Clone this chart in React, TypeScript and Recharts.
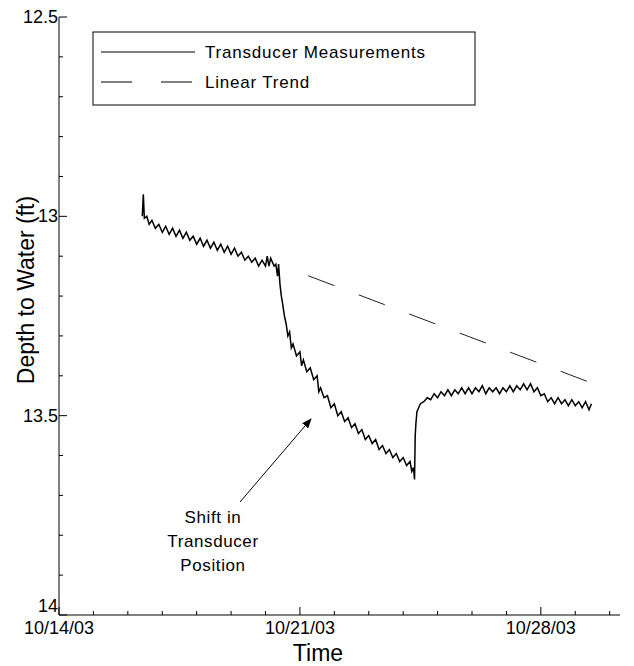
import React from 'react';
import { LineChart, Line, XAxis, YAxis } from 'recharts';

document.body.style.margin = '0';

// days since 10/14/03, depth to water (ft)
const transducer: [number, number][] = [
  [2.42, 13.0], [2.45, 12.945], [2.48, 13.005], [2.55, 13.0], [2.62, 13.02], [2.7, 13.01], [2.8, 13.03], [2.9, 13.02],
  [3.0, 13.04], [3.1, 13.025], [3.2, 13.045], [3.3, 13.03], [3.4, 13.05], [3.5, 13.035], [3.6, 13.055], [3.7, 13.04],
  [3.8, 13.06], [3.9, 13.05], [4.0, 13.07], [4.1, 13.055], [4.2, 13.075], [4.3, 13.06], [4.4, 13.08], [4.5, 13.065],
  [4.6, 13.085], [4.7, 13.07], [4.8, 13.09], [4.9, 13.075], [5.0, 13.095], [5.1, 13.08], [5.2, 13.1], [5.3, 13.09],
  [5.4, 13.11], [5.5, 13.1], [5.6, 13.115], [5.7, 13.105], [5.8, 13.125], [5.9, 13.11], [6.0, 13.125], [6.05, 13.1],
  [6.1, 13.125], [6.15, 13.105], [6.25, 13.125], [6.3, 13.12], [6.35, 13.15], [6.38, 13.12], [6.42, 13.17], [6.46, 13.2],
  [6.5, 13.22], [6.55, 13.25], [6.6, 13.27], [6.65, 13.3], [6.7, 13.29], [6.75, 13.33], [6.8, 13.32], [6.9, 13.35],
  [7.0, 13.34], [7.05, 13.375], [7.1, 13.36], [7.2, 13.39], [7.3, 13.38], [7.4, 13.41], [7.5, 13.4], [7.55, 13.44],
  [7.6, 13.43], [7.7, 13.455], [7.8, 13.45], [7.9, 13.48], [8.0, 13.47], [8.1, 13.5], [8.2, 13.49], [8.3, 13.515],
  [8.4, 13.505], [8.5, 13.53], [8.6, 13.52], [8.7, 13.545], [8.8, 13.535], [8.9, 13.56], [9.0, 13.55], [9.1, 13.57],
  [9.2, 13.56], [9.3, 13.585], [9.4, 13.575], [9.5, 13.595], [9.6, 13.585], [9.7, 13.605], [9.8, 13.595], [9.9, 13.615],
  [10.0, 13.605], [10.1, 13.625], [10.2, 13.615], [10.25, 13.64], [10.3, 13.63], [10.33, 13.66], [10.35, 13.55],
  [10.37, 13.52], [10.4, 13.49], [10.45, 13.48], [10.5, 13.47], [10.6, 13.465], [10.7, 13.455], [10.8, 13.46],
  [10.9, 13.445], [11.0, 13.455], [11.1, 13.44], [11.2, 13.45], [11.3, 13.435], [11.4, 13.45], [11.5, 13.435],
  [11.6, 13.445], [11.7, 13.43], [11.8, 13.445], [11.9, 13.43], [12.0, 13.445], [12.1, 13.43], [12.2, 13.44],
  [12.3, 13.425], [12.4, 13.445], [12.5, 13.43], [12.6, 13.44], [12.7, 13.43], [12.8, 13.445], [12.9, 13.43],
  [13.0, 13.44], [13.1, 13.425], [13.2, 13.44], [13.3, 13.425], [13.4, 13.435], [13.5, 13.42], [13.6, 13.435],
  [13.7, 13.42], [13.8, 13.44], [13.9, 13.43], [14.0, 13.45], [14.1, 13.445], [14.2, 13.465], [14.3, 13.455],
  [14.4, 13.47], [14.5, 13.455], [14.6, 13.47], [14.7, 13.46], [14.8, 13.475], [14.9, 13.46], [15.0, 13.475],
  [15.1, 13.465], [15.2, 13.48], [15.3, 13.465], [15.4, 13.485], [15.47, 13.47],
];
const trend: [number, number][] = [[7.24, 13.149], [15.47, 13.418]];

const dateTicks = [0, 7, 14];
const dateLabels = ['10/14/03', '10/21/03', '10/28/03'];
const dayTicks = [0, 1, 2, 3, 4, 5, 6, 7, 8, 9, 10, 11, 12, 13, 14, 15, 16];
const depthTicks = [12.5, 13, 13.5, 14];
const depthAllTicks = [12.5, 12.6, 12.7, 12.8, 12.9, 13, 13.1, 13.2, 13.3, 13.4, 13.5, 13.6, 13.7, 13.8, 13.9, 14];

const font = '"Liberation Sans", Arial, sans-serif';
const W = 634, H = 666;

const transducerRows = transducer.map(([day, depth]) => ({ day, depth }));
const trendRows = trend.map(([day, depth]) => ({ day, depth }));

function DayTick(props: any) {
  const { x, y, payload } = props;
  const i = dateTicks.indexOf(payload.value);
  return (
    <g>
      <line x1={x} y1={y} x2={x} y2={y - (i >= 0 ? 8 : 4)} stroke="#000" />
      {i >= 0 && (
        <text x={x} y={y + 19} textAnchor="middle" fontSize={18} fontFamily={font} fill="#000">{dateLabels[i]}</text>
      )}
    </g>
  );
}

function DepthTick(props: any) {
  const { x, y, payload } = props;
  const v = Math.round(payload.value * 10) / 10;
  const major = depthTicks.includes(v);
  return (
    <g>
      <line x1={x} y1={y} x2={x + (major ? 8 : 4)} y2={y} stroke="#000" />
      {major && (
        <text x={x - 1} y={y + (v === 14 ? -3 : 6)} textAnchor="end" fontSize={18} fontFamily={font} fill="#000">{String(v)}</text>
      )}
    </g>
  );
}

export default function App() {
  return (
    <div style={{ position: 'relative', width: W, height: H, background: '#fff', fontFamily: font }}>
      <LineChart width={W} height={H} margin={{ top: 17, right: 14, bottom: 0, left: 0 }}>
        <XAxis xAxisId="x" type="number" dataKey="day" domain={[0, 16.3]} allowDataOverflow ticks={dayTicks}
          interval={0} tickLine={false} tickSize={0} tickMargin={0}
          axisLine={{ stroke: '#000' }} tick={<DayTick />} height={51} />
        <YAxis yAxisId="y" type="number" dataKey="depth" domain={[12.5, 14]} reversed allowDataOverflow
          ticks={depthAllTicks} interval={0} tickLine={false} tickSize={0} tickMargin={0}
          axisLine={{ stroke: '#000' }} tick={<DepthTick />} width={59} />
        <Line xAxisId="x" yAxisId="y" data={transducerRows} dataKey="depth" stroke="#000" strokeWidth={1.5}
          dot={false} isAnimationActive={false} />
        <Line xAxisId="x" yAxisId="y" data={trendRows} dataKey="depth" stroke="#222" strokeWidth={1}
          strokeDasharray="28 26" dot={false} isAnimationActive={false} />
      </LineChart>
      <svg width={W} height={H} style={{ position: 'absolute', left: 0, top: 0, pointerEvents: 'none' }}>
        <defs>
          <marker id="ah" markerWidth="10" markerHeight="8" refX="9" refY="4" orient="auto" markerUnits="userSpaceOnUse">
            <path d="M0,0 L10,4 L0,8 Z" fill="#000" />
          </marker>
        </defs>
        <rect x={93} y={32} width={382} height={73} fill="#fff" stroke="#000" />
        <line x1={101} y1={52} x2={195} y2={52} stroke="#000" />
        <line x1={101} y1={82} x2={195} y2={82} stroke="#000" strokeDasharray="31 29" />
        <text x={205} y={58} fontSize={17} fontFamily={font} letterSpacing={0.8}>Transducer Measurements</text>
        <text x={205} y={88} fontSize={17} fontFamily={font} letterSpacing={0.8}>Linear Trend</text>
        <text transform="translate(34,290) rotate(-90)" textAnchor="middle" fontSize={23} fontFamily={font}>Depth to Water (ft)</text>
        <text x={318} y={661} textAnchor="middle" fontSize={23} fontFamily={font}>Time</text>
        <line x1={240} y1={502} x2={311} y2={419} stroke="#000" strokeWidth={1} markerEnd="url(#ah)" />
        <text textAnchor="middle" fontSize={17} fontFamily={font} letterSpacing={0.6}>
          <tspan x={213} y={523}>Shift in</tspan>
          <tspan x={213} y={547}>Transducer</tspan>
          <tspan x={213} y={571}>Position</tspan>
        </text>
      </svg>
    </div>
  );
}
